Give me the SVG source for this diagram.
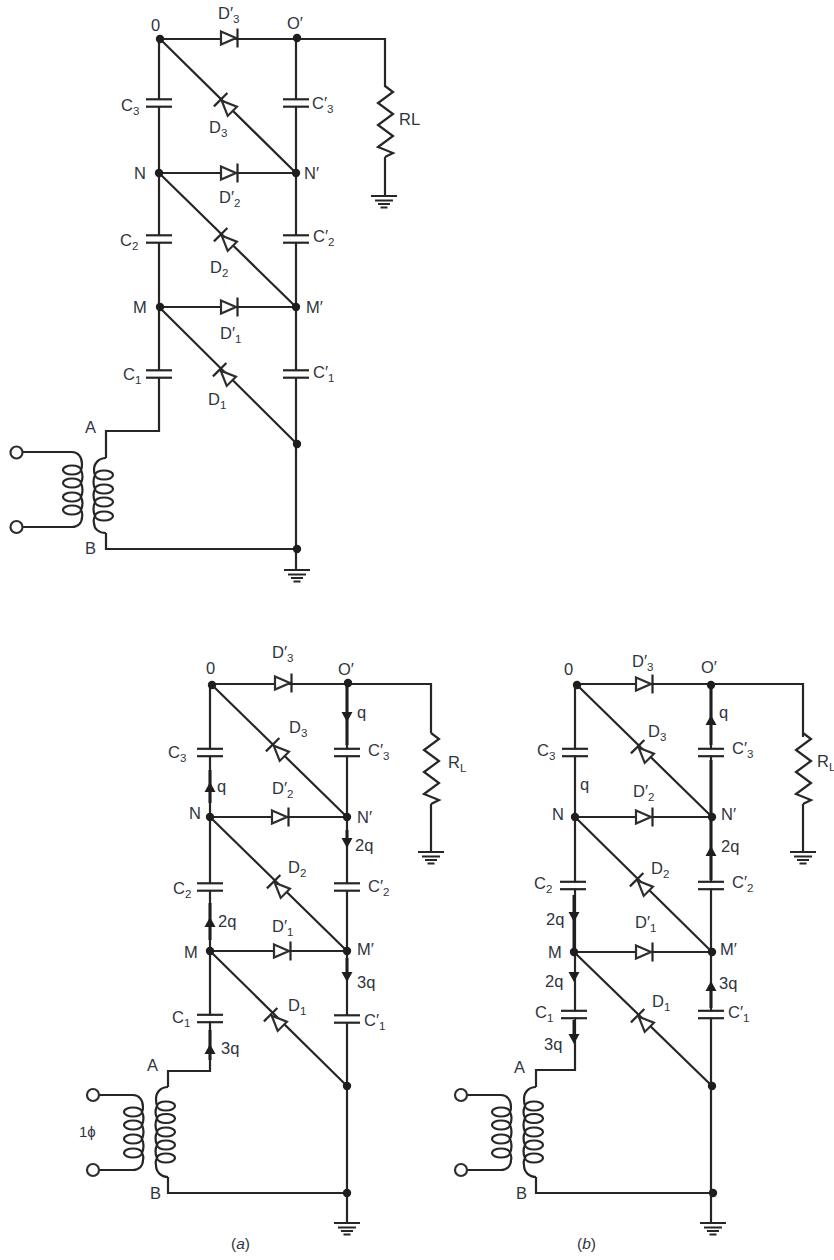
<svg xmlns="http://www.w3.org/2000/svg" xmlns:xlink="http://www.w3.org/1999/xlink" width="834" height="1260" viewBox="0 0 834 1260">
<style>
text{font-family:"Liberation Sans",Arial,sans-serif;font-size:16.5px;fill:#2f3540}
.s{font-size:11.500px}
.i{font-style:italic}
.w{fill:none;stroke:#262626;stroke-width:2.2;stroke-linejoin:miter}
.t{fill:none;stroke:#1e1e1e;stroke-width:3}
.d{fill:#1e1e1e;stroke:none}
.a{fill:#1e1e1e;stroke:none}
.o{fill:#fff;stroke:#2e2e2e;stroke-width:2.200}
</style>
<defs>
<g id="dio"><polygon class="o" points="-16,-6.500 -1,0 -16,6.500"/><line class="w" x1="0.5" y1="-9.5" x2="0.5" y2="9.5"/></g>
<g id="cap"><rect x="-14" y="-3" width="28" height="6" fill="#fff"/><line class="w" x1="-13" y1="-3.7" x2="13" y2="-3.7"/><line class="w" x1="-13" y1="3.7" x2="13" y2="3.7"/></g>
<g id="gnd"><path class="w" d="M-13,0H13M-9,4.5H9M-6,8H6M-3.5,11.5H3.5"/></g>
<polygon id="up" class="a" points="0,0 5.5,10 -5.5,10"/>
<polygon id="dn" class="a" points="0,0 5.5,-10 -5.5,-10"/>
<g id="res"><polyline class="w" points="0,0 8,6 -7,17 8,28 -7,39 8,50 -7,61 8,67 0,71"/></g>
<g id="sec5"><path class="w" d="M168,1087C161,1087 156,1092 156,1099Q156,1103 157,1106Q154,1112 157,1118Q154,1125 157,1132Q154,1138 157,1145Q154,1151 157,1158Q155,1162 156,1165C156,1172 161,1177 168,1177"/>
<ellipse class="w" cx="166" cy="1106" rx="9" ry="4.5"/><ellipse class="w" cx="166" cy="1118.5" rx="9" ry="4.5"/><ellipse class="w" cx="166" cy="1132" rx="9" ry="4.5"/><ellipse class="w" cx="166" cy="1145" rx="9" ry="4.5"/><ellipse class="w" cx="166" cy="1158" rx="9" ry="4.5"/></g>
<g id="pri4"><path class="w" d="M99,1095H133C139,1095 143,1100 143,1107Q143,1110 142,1112Q145,1118 142,1125Q145,1132 142,1139Q145,1146 142,1153Q144,1157 143,1160C143,1166 139,1170 133,1170H99"/>
<ellipse class="w" cx="133" cy="1112" rx="9" ry="4.5"/><ellipse class="w" cx="133" cy="1125" rx="9" ry="4.5"/><ellipse class="w" cx="133" cy="1139" rx="9" ry="4.5"/><ellipse class="w" cx="133" cy="1153" rx="9" ry="4.5"/>
<circle class="o" cx="93" cy="1095" r="6"/><circle class="o" cx="93" cy="1170" r="6"/></g>
</defs>

<g id="connectors">
<path class="w" d="M160,39H385V87M385,157V196M159,39V431H106V458M106,533V549H297M296,38V570M159,173H296M159,307H296M160,39L296,173M159,173L296,307M159,307L297,444"/>
<path class="w" d="M212,684H431V733M431,804V852M210,685V1071H168V1087M168,1177V1193H347M347,683V1223M210,817H347M210,951H347M212,685L347,817M210,817L347,951M210,951L347,1086"/>
<path class="t" d="M347,683V745M210,770V803M347,830V842M210,903V940M347,958V975M210,1030V1060"/>
<path class="w" d="M577,684H803V737M803,804V852M575,685V1070H536V1087M536,1177V1193H713M711,685V1223M575,817H712M574,952H712M577,685L712,817M575,817L712,952M574,952L712,1086"/>
<path class="t" d="M711,685V745M711,760V880M574,895V950M574,1020V1040M711,990V1008"/>
</g>

<g id="top-circuit">
<g id="C3"><use href="#cap" x="159" y="103"/><text x="121" y="111">C<tspan class="s" dy="4">3</tspan></text></g>
<g id="C2"><use href="#cap" x="159" y="239"/><text x="120" y="246">C<tspan class="s" dy="4">2</tspan></text></g>
<g id="C1"><use href="#cap" x="159" y="374"/><text x="123" y="380">C<tspan class="s" dy="4">1</tspan></text></g>
<g id="Cp3"><use href="#cap" x="296" y="103"/><text x="312" y="109">C′<tspan class="s" dy="4">3</tspan></text></g>
<g id="Cp2"><use href="#cap" x="296" y="239"/><text x="313" y="242">C′<tspan class="s" dy="4">2</tspan></text></g>
<g id="Cp1"><use href="#cap" x="296" y="374"/><text x="313" y="378">C′<tspan class="s" dy="4">1</tspan></text></g>
<g id="Dp3"><use href="#dio" x="237" y="38"/><text x="218" y="19">D′<tspan class="s" dy="4">3</tspan></text></g>
<g id="Dp2"><use href="#dio" x="237" y="173"/><text x="219" y="203">D′<tspan class="s" dy="4">2</tspan></text></g>
<g id="Dp1"><use href="#dio" x="237" y="307"/><text x="220" y="339">D′<tspan class="s" dy="4">1</tspan></text></g>
<g id="D3"><use href="#dio" transform="translate(221,100) rotate(225)"/><text x="209" y="133">D<tspan class="s" dy="4">3</tspan></text></g>
<g id="D2"><use href="#dio" transform="translate(221,235) rotate(225)"/><text x="210" y="273">D<tspan class="s" dy="4">2</tspan></text></g>
<g id="D1"><use href="#dio" transform="translate(220,370) rotate(225)"/><text x="208" y="405">D<tspan class="s" dy="4">1</tspan></text></g>
<g id="RL"><use href="#res" x="385" y="86"/><text x="399" y="125">RL</text><use href="#gnd" x="384" y="196"/></g>
<g id="ground-top"><use href="#gnd" x="297" y="570"/></g>
<g id="transformer-top">
<path class="w" d="M106,458C99,458 94,463 94,470Q94,473 95,475Q92,482 95,489Q92,495 95,502Q92,509 95,516Q93,520 94,523C94,529 99,533 106,533"/>
<ellipse class="w" cx="104" cy="475" rx="9" ry="4.5"/><ellipse class="w" cx="104" cy="489" rx="9" ry="4.5"/><ellipse class="w" cx="104" cy="502" rx="9" ry="4.5"/><ellipse class="w" cx="104" cy="516" rx="9" ry="4.5"/>
<path class="w" d="M23,452H72C78,452 82,457 82,464Q82,468 81,470Q84,477 81,483Q84,490 81,497Q84,503 81,510Q83,514 82,517C82,523 78,527 72,527H23"/>
<ellipse class="w" cx="72" cy="470" rx="9" ry="4.5"/><ellipse class="w" cx="72" cy="483" rx="9" ry="4.5"/><ellipse class="w" cx="72" cy="497" rx="9" ry="4.5"/><ellipse class="w" cx="72" cy="510" rx="9" ry="4.5"/>
<circle class="o" cx="16.500" cy="452.500" r="6"/><circle class="o" cx="16.500" cy="527" r="6"/>
<text x="85" y="433">A</text><text x="85" y="554">B</text>
</g>
<g id="node-0"><circle class="d" cx="160" cy="39" r="4.200"/><text x="151" y="31">0</text></g>
<g id="node-O"><circle class="d" cx="297" cy="38" r="4.200"/><text x="287" y="29">O′</text></g>
<g id="node-N"><circle class="d" cx="159" cy="173" r="4.200"/><text x="134" y="179">N</text></g>
<g id="node-Np"><circle class="d" cx="296" cy="173" r="4.200"/><text x="304" y="179">N′</text></g>
<g id="node-M"><circle class="d" cx="160" cy="307" r="4.200"/><text x="133" y="313">M</text></g>
<g id="node-Mp"><circle class="d" cx="296" cy="307" r="4.200"/><text x="306" y="313">M′</text></g>
<g id="node-P"><circle class="d" cx="297" cy="444" r="4.200"/></g>
<g id="node-Q"><circle class="d" cx="297" cy="549" r="4.200"/></g>
</g>

<g id="circuit-a">
<g id="aC3"><use href="#cap" x="210" y="752.500"/><text x="168" y="758">C<tspan class="s" dy="4">3</tspan></text></g>
<g id="aC2"><use href="#cap" x="210" y="887"/><text x="173" y="894">C<tspan class="s" dy="4">2</tspan></text></g>
<g id="aC1"><use href="#cap" x="210" y="1018.500"/><text x="172" y="1023">C<tspan class="s" dy="4">1</tspan></text></g>
<g id="aCp3"><use href="#cap" x="347" y="752.500"/><text x="368" y="756">C′<tspan class="s" dy="4">3</tspan></text></g>
<g id="aCp2"><use href="#cap" x="347" y="887"/><text x="368" y="892">C′<tspan class="s" dy="4">2</tspan></text></g>
<g id="aCp1"><use href="#cap" x="347" y="1019"/><text x="364" y="1026">C′<tspan class="s" dy="4">1</tspan></text></g>
<g id="aDp3"><use href="#dio" x="291" y="683"/><text x="272" y="658">D′<tspan class="s" dy="4">3</tspan></text></g>
<g id="aDp2"><use href="#dio" x="288" y="817"/><text x="272" y="794">D′<tspan class="s" dy="4">2</tspan></text></g>
<g id="aDp1"><use href="#dio" x="290" y="951"/><text x="272" y="932">D′<tspan class="s" dy="4">1</tspan></text></g>
<g id="aD3"><use href="#dio" transform="translate(273,745) rotate(225)"/><text x="289" y="733">D<tspan class="s" dy="4">3</tspan></text></g>
<g id="aD2"><use href="#dio" transform="translate(274,882) rotate(225)"/><text x="288" y="873">D<tspan class="s" dy="4">2</tspan></text></g>
<g id="aD1"><use href="#dio" transform="translate(271,1015) rotate(225)"/><text x="288" y="1011">D<tspan class="s" dy="4">1</tspan></text></g>
<g id="aRL"><use href="#res" x="431" y="733"/><text x="448" y="768">R<tspan class="s" dy="4">L</tspan></text><use href="#gnd" x="431" y="852"/></g>
<g id="aground"><use href="#gnd" x="347" y="1223"/></g>
<g id="atransformer"><use href="#sec5"/><use href="#pri4"/><text x="147" y="1071">A</text><text x="150" y="1199">B</text><text x="79" y="1137" style="font-size:15px">1ϕ</text></g>
<g id="a-currents">
<use href="#dn" x="347" y="722"/><text x="357" y="718">q</text>
<use href="#up" x="210" y="782"/><text x="217" y="792">q</text>
<use href="#dn" x="347" y="848"/><text x="355" y="851">2q</text>
<use href="#up" x="210" y="917"/><text x="218" y="927">2q</text>
<use href="#dn" x="347" y="982"/><text x="357" y="988">3q</text>
<use href="#up" x="210" y="1044"/><text x="221" y="1054">3q</text>
</g>
<g id="a0"><circle class="d" cx="212" cy="685" r="4.200"/><text x="206" y="674">0</text></g>
<g id="aO"><circle class="d" cx="348" cy="683" r="4.200"/><text x="338" y="675">O′</text></g>
<g id="aN"><circle class="d" cx="210" cy="817" r="4.200"/><text x="189" y="819">N</text></g>
<g id="aNp"><circle class="d" cx="347" cy="817" r="4.200"/><text x="357" y="823">N′</text></g>
<g id="aM"><circle class="d" cx="210" cy="951" r="4.200"/><text x="184" y="958">M</text></g>
<g id="aMp"><circle class="d" cx="347" cy="951" r="4.200"/><text x="357" y="955">M′</text></g>
<g id="aP"><circle class="d" cx="347" cy="1086" r="4.200"/></g>
<g id="aQ"><circle class="d" cx="347" cy="1193" r="4.200"/></g>
<text x="231" y="1249" style="font-size:15.500px">(<tspan class="i">a</tspan>)</text>
</g>

<g id="circuit-b">
<g id="bC3"><use href="#cap" x="575" y="752.500"/><text x="537" y="756">C<tspan class="s" dy="4">3</tspan></text></g>
<g id="bC2"><use href="#cap" x="573" y="885.500"/><text x="534" y="889">C<tspan class="s" dy="4">2</tspan></text></g>
<g id="bC1"><use href="#cap" x="574" y="1014.500"/><text x="535" y="1018">C<tspan class="s" dy="4">1</tspan></text></g>
<g id="bCp3"><use href="#cap" x="711" y="752.500"/><text x="732" y="754">C′<tspan class="s" dy="4">3</tspan></text></g>
<g id="bCp2"><use href="#cap" x="711" y="885.500"/><text x="732" y="888">C′<tspan class="s" dy="4">2</tspan></text></g>
<g id="bCp1"><use href="#cap" x="711" y="1014.500"/><text x="728" y="1018">C′<tspan class="s" dy="4">1</tspan></text></g>
<g id="bDp3"><use href="#dio" x="652" y="684"/><text x="632" y="667">D′<tspan class="s" dy="4">3</tspan></text></g>
<g id="bDp2"><use href="#dio" x="652" y="817"/><text x="633" y="797">D′<tspan class="s" dy="4">2</tspan></text></g>
<g id="bDp1"><use href="#dio" x="652" y="952"/><text x="635" y="928">D′<tspan class="s" dy="4">1</tspan></text></g>
<g id="bD3"><use href="#dio" transform="translate(638,747) rotate(225)"/><text x="648" y="737">D<tspan class="s" dy="4">3</tspan></text></g>
<g id="bD2"><use href="#dio" transform="translate(637,880) rotate(225)"/><text x="651" y="874">D<tspan class="s" dy="4">2</tspan></text></g>
<g id="bD1"><use href="#dio" transform="translate(638,1016) rotate(225)"/><text x="652" y="1007">D<tspan class="s" dy="4">1</tspan></text></g>
<g id="bRL"><use href="#res" x="803" y="733"/><text x="817" y="767">R<tspan class="s" dy="4">L</tspan></text><use href="#gnd" x="803" y="852"/></g>
<g id="bground"><use href="#gnd" x="713" y="1223"/></g>
<g id="btransformer"><use href="#sec5" x="368"/><use href="#pri4" x="368"/><text x="514" y="1073">A</text><text x="516" y="1199">B</text></g>
<g id="b-currents">
<use href="#up" x="711" y="715"/><text x="719" y="718">q</text>
<text x="580" y="790">q</text>
<use href="#up" x="711" y="846"/><text x="721" y="852">2q</text>
<use href="#dn" x="574" y="922"/><text x="546" y="925">2q</text>
<use href="#dn" x="574" y="982"/><text x="545" y="987">2q</text>
<use href="#up" x="711" y="981"/><text x="719" y="989">3q</text>
<use href="#dn" x="574" y="1044"/><text x="544" y="1050">3q</text>
</g>
<g id="b0"><circle class="d" cx="577" cy="685" r="4.200"/><text x="564" y="675">0</text></g>
<g id="bO"><circle class="d" cx="711" cy="685" r="4.200"/><text x="701" y="673">O′</text></g>
<g id="bN"><circle class="d" cx="575" cy="817" r="4.200"/><text x="552" y="820">N</text></g>
<g id="bNp"><circle class="d" cx="712" cy="817" r="4.200"/><text x="721" y="820">N′</text></g>
<g id="bM"><circle class="d" cx="574" cy="952" r="4.200"/><text x="548" y="958">M</text></g>
<g id="bMp"><circle class="d" cx="712" cy="952" r="4.200"/><text x="720" y="955">M′</text></g>
<g id="bP"><circle class="d" cx="712" cy="1086" r="4.200"/></g>
<g id="bQ"><circle class="d" cx="713" cy="1193" r="4.200"/></g>
<text x="577" y="1249" style="font-size:15.500px">(<tspan class="i">b</tspan>)</text>
</g>
</svg>
